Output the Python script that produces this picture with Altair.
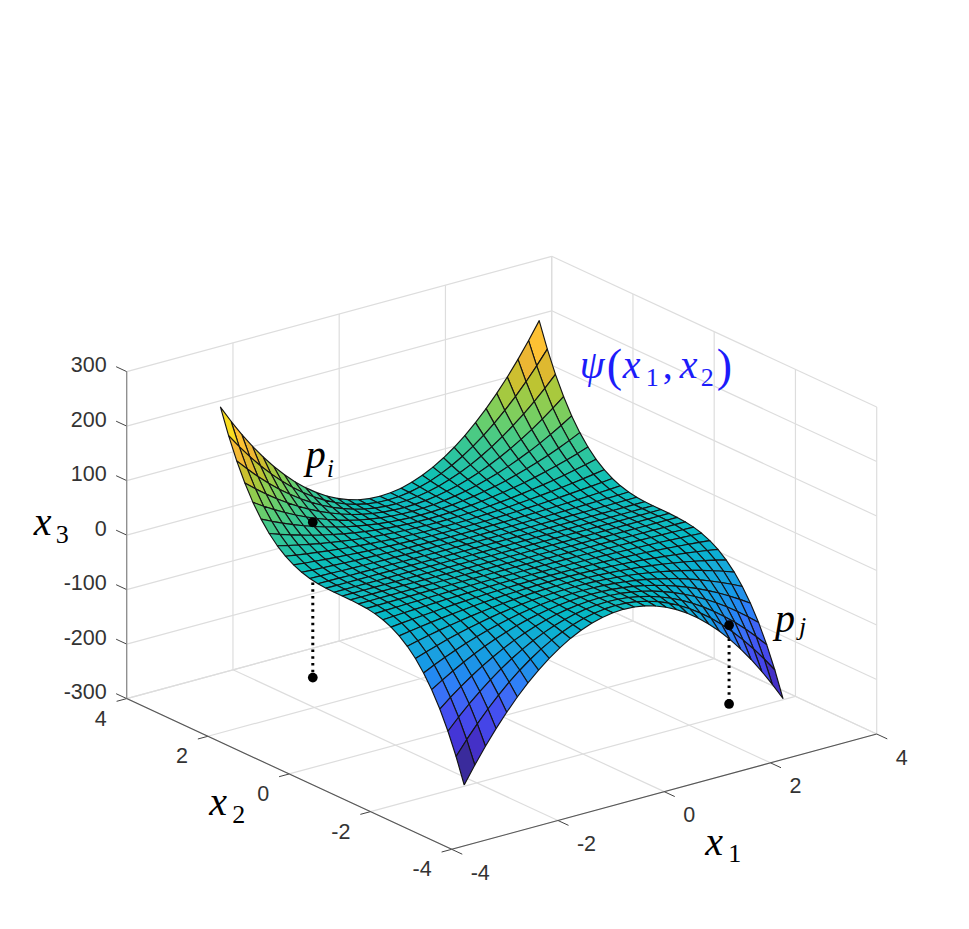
import altair as alt
import pandas as pd

alt.data_transformers.disable_max_rows()

# grid positions of the surface (one quadrant; the picture is mirror-symmetric in x1, odd in x2)
STEPS = [0, .2, .4, .6, .8, 1, 1.2, 1.4, 1.6, 1.8, 2, 2.2, 2.4, 2.6, 2.8, 3]
# x3 read per row of x2 (0 .. 3), column of x1 (0 .. 3)
X3_ROWS = [
    [0, 0, 0, 0, 0, 0, 0, 0, 0, 0, 0, 0, 0, 0, 0, 0],
    [0, 0, 0, 0, 0, 0, 0, 0, 0, 0, 0, 0, 0, .1, .1, .1],
    [0, 0, 0, 0, 0, .1, .1, .1, .2, .2, .3, .3, .4, .4, .5, .6],
    [0, 0, 0, .1, .1, .2, .3, .4, .6, .7, .9, 1, 1.2, 1.5, 1.7, 1.9],
    [0, 0, .1, .2, .3, .5, .7, 1, 1.3, 1.7, 2, 2.5, 2.9, 3.5, 4, 4.6],
    [0, 0, .2, .4, .6, 1, 1.4, 2, 2.6, 3.2, 4, 4.8, 5.8, 6.8, 7.8, 9],
    [0, .1, .3, .6, 1.1, 1.7, 2.5, 3.4, 4.4, 5.6, 6.9, 8.4, 10, 11.7, 13.5, 15.6],
    [0, .1, .4, 1, 1.8, 2.7, 4, 5.4, 7, 8.9, 11, 13.3, 15.8, 18.5, 21.5, 24.7],
    [0, .2, .7, 1.5, 2.6, 4.1, 5.9, 8, 10.5, 13.3, 16.4, 19.8, 23.6, 27.7, 32.1, 36.9],
    [0, .2, .9, 2.1, 3.7, 5.8, 8.4, 11.4, 14.9, 18.9, 23.3, 28.2, 33.6, 39.4, 45.7, 52.5],
    [0, .3, 1.3, 2.9, 5.1, 8, 11.5, 15.7, 20.5, 25.9, 32, 38.7, 46.1, 54.1, 62.7, 72],
    [0, .4, 1.7, 3.8, 6.8, 10.6, 15.3, 20.9, 27.3, 34.5, 42.6, 51.5, 61.3, 72, 83.5, 95.8],
    [0, .6, 2.2, 5, 8.8, 13.8, 19.9, 27.1, 35.4, 44.8, 55.3, 66.9, 79.6, 93.5, 108.4, 124.4],
    [0, .7, 2.8, 6.3, 11.2, 17.6, 25.3, 34.4, 45, 56.9, 70.3, 85.1, 101.2, 118.8, 137.8, 158.2],
    [0, .9, 3.5, 7.9, 14, 22, 31.6, 43, 56.2, 71.1, 87.8, 106.2, 126.4, 148.4, 172.1, 197.6],
    [0, 1.1, 4.3, 9.7, 17.3, 27, 38.9, 52.9, 69.1, 87.5, 108, 130.7, 155.5, 182.5, 211.7, 243],
]
H_TICKS = [-4, -2, 0, 2, 4]
V_TICKS = [-300, -200, -100, 0, 100, 200, 300]
P_I = [-1.95, 2.1, 35, -250]
P_J = [2.2, -2.72, -97, -241.5]
COLOR_STOPS = [-243, -211, -197, -182, -155, -130, -108, -85, -60, -40, -20, 0,
               25, 50, 75, 95, 115, 130, 150, 172, 185, 198]
COLORS = ["#3a2b9c", "#4430c8", "#4436d8", "#4545e8", "#4450f0", "#3e6cf6", "#2f80f8", "#2590ea",
          "#1da2e0", "#18acd8", "#0eb4cc", "#10bcc0", "#28c3a5", "#40c88c", "#6fcf68", "#90cd50",
          "#b5c634", "#d4bc30", "#eeb534", "#fdc133", "#fcc832", "#f8dd20"]

W, H = 945, 905
SERIF = "Liberation Serif"
SANS = "Liberation Sans"


def proj(a, b, c):
    u, v = (a + 4) / 8, (b + 4) / 8
    return (451.7 + 425 * u - 325 * v,
            849.3 - 115.3 * u - 150.7 * v - (c + 300) / 600 * 327)


def height(a, b):
    i, j = STEPS.index(abs(b)), STEPS.index(abs(a))
    return X3_ROWS[i][j] * (1 if b >= 0 else -1)


X = alt.X("px:Q", axis=None, scale=alt.Scale(domain=[8, 8 + W], range=[0, W], nice=False, zero=False))
Y = alt.Y("py:Q", axis=None, scale=alt.Scale(domain=[8 + H, 8], range=[H, 0], nice=False, zero=False))


def lines(segs, color, width, dash=None):
    rows = []
    for k, (p, q) in enumerate(segs):
        for n, pt in enumerate((p, q)):
            x, y = proj(*pt)
            rows.append(dict(id=k, n=n, px=x, py=y))
    kw = dict(color=color, strokeWidth=width)
    if dash:
        kw["strokeDash"] = dash
    return alt.Chart(pd.DataFrame(rows)).mark_line(**kw).encode(x=X, y=Y, detail="id:N", order="n:Q")


grid = []
for t in H_TICKS:
    grid.append(((t, -4, -300), (t, 4, -300)))
    grid.append(((-4, t, -300), (4, t, -300)))
    grid.append(((t, 4, -300), (t, 4, 300)))
    grid.append(((4, t, -300), (4, t, 300)))
for c in V_TICKS:
    grid.append(((-4, 4, c), (4, 4, c)))
    grid.append(((4, 4, c), (4, -4, c)))

axes = [((-4, -4, -300), (4, -4, -300)), ((-4, -4, -300), (-4, 4, -300))]
ticks = []
for t in H_TICKS:
    ticks.append(((t, -4, -300), (t, -4.26, -300)))
    ticks.append(((-4, t, -300), (-4.19, t, -300)))
for c in V_TICKS:
    ticks.append(((-4, 4, c), (-4, 4.26, c)))

# surface cells, far to near
coords = sorted(set(STEPS) | {-s for s in STEPS})
rows = []
cell = 0
for b0, b1 in reversed(list(zip(coords[:-1], coords[1:]))):
    for a0, a1 in reversed(list(zip(coords[:-1], coords[1:]))):
        shade = height(a0, b0)
        for n, (a, b) in enumerate([(a0, b0), (a1, b0), (a1, b1), (a0, b1), (a0, b0)]):
            x, y = proj(a, b, height(a, b))
            rows.append(dict(cell=cell, n=n, px=x, py=y, shade=shade))
        cell += 1
surface = alt.Chart(pd.DataFrame(rows)).mark_line(
    stroke="#141414", strokeWidth=1.15, strokeJoin="round"
).encode(
    x=X, y=Y, detail="cell:N", order="n:Q",
    fill=alt.Fill("shade:Q", legend=None, scale=alt.Scale(domain=COLOR_STOPS, range=COLORS)),
)


def dots(points):
    df = pd.DataFrame([dict(zip(("px", "py"), proj(*p))) for p in points])
    return alt.Chart(df).mark_circle(size=95, color="black", opacity=1).encode(x=X, y=Y)


def labels(items, **kw):
    df = pd.DataFrame([dict(zip(("px", "py"), proj(*p)), t=s) for p, s in items])
    return alt.Chart(df).mark_text(**kw).encode(x=X, y=Y, text="t:N")


def note(anchor, text, dx, dy, size=40, color="black", style="italic", font=SERIF):
    return labels([(anchor, text)], dx=dx, dy=dy, fontSize=size, color=color, fontStyle=style,
                  font=font, align="left", baseline="alphabetic")


tick_style = dict(font=SANS, fontSize=21.5, color="#333333", baseline="middle")
x1_labels = labels([((t, -4, -300), str(t)) for t in H_TICKS], align="left", dx=19, dy=24.5, **tick_style)
x2_labels = labels([((-4, t, -300), str(t)) for t in H_TICKS], align="right", dx=-20, dy=21, **tick_style)
x3_labels = labels([((-4, 4, c), str(c)) for c in V_TICKS], align="right", dx=-20, dy=-5.5, **tick_style)

BLUE = "#1c1cfa"
AX0 = (-4, 4, 0)
X1A = (0, -4, -300)
X2A = (-4, 0, -300)
TOP = (4, 4, 300)
PI = (P_I[0], P_I[1], P_I[2])
PJ = (P_J[0], P_J[1], P_J[2])
SUB = 26
texts = [
    note(AX0, "x", -93, 0), note(AX0, "3", -71, 7.7, SUB, style="normal"),
    note(X1A, "x", 41, 63), note(X1A, "1", 64, 70, SUB, style="normal"),
    note(X2A, "x", -80, 41), note(X2A, "2", -57, 49, SUB, style="normal"),
    note(PI, "p", -7, -54), note(PI, "i", 14, -45, SUB),
    note(PJ, "p", 46, 7), note(PJ, "j", 70, 10, SUB),
    note(TOP, "ψ", 28, 122, color=BLUE), note(TOP, "(", 55, 125, 46, BLUE, "normal"),
    note(TOP, "x", 71, 122, color=BLUE), note(TOP, "1", 94, 130, SUB, BLUE, "normal"),
    note(TOP, ",", 111, 122, color=BLUE, style="normal"), note(TOP, "x", 128, 122, color=BLUE),
    note(TOP, "2", 149, 130, SUB, BLUE, "normal"), note(TOP, ")", 165, 125, 46, BLUE, "normal"),
]

drops = [((P[0], P[1], P[2]), (P[0], P[1], P[3])) for P in (P_I, P_J)]

chart = alt.layer(
    lines(grid, "#dddddd", 1.2),
    lines(ticks, "#444444", 1),
    lines(axes, "#555555", 1.1),
    lines([((-4, 4, -300), (-4, 4, 300))], "#888888", 1.2),
    lines(drops, "black", 3, [2.5, 4.2]),
    dots([(P[0], P[1], P[3]) for P in (P_I, P_J)]),
    surface,
    dots([(P[0], P[1], P[2]) for P in (P_I, P_J)]),
    x1_labels, x2_labels, x3_labels,
    *texts,
).properties(
    width=W, height=H, padding=0, autosize=alt.AutoSizeParams(type="none")
).configure_view(stroke=None)

chart.save("out.html", embed_options={"renderer": "svg", "actions": False})
